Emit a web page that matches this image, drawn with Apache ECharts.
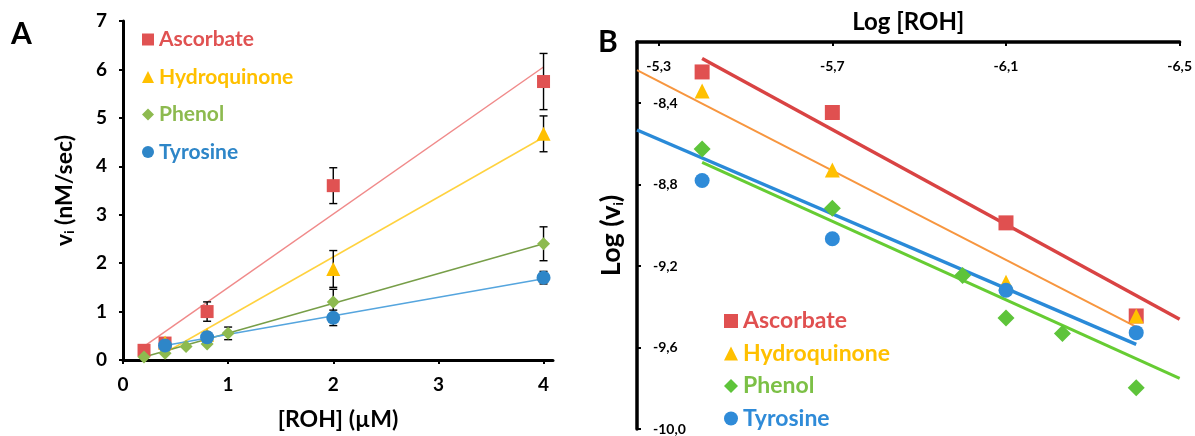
<!DOCTYPE html>
<html>
<head>
<meta charset="utf-8">
<script src="https://cdn.jsdelivr.net/npm/echarts@6/dist/echarts.min.js"></script>
<style>
html,body{margin:0;padding:0;background:#fff;}
#c{width:1195px;height:436px;}
</style>
</head>
<body>
<div id="c"></div>
<script>
// ---------- Panel A data: v_i (nM/sec) vs [ROH] (µM) ----------
const names = ['Ascorbate', 'Hydroquinone', 'Phenol', 'Tyrosine'];

const ascX = [0.2, 0.4, 0.8, 2, 4];
const ascY = [0.2, 0.35, 1.0, 3.6, 5.75];
const ascErr = [0, 0, 0.2, 0.37, 0.58];

const hydX = [0.4, 0.8, 2, 4];
const hydY = [0.36, 0.52, 1.88, 4.67];
const hydErr = [0, 0, 0.38, 0.37];

const phX = [0.2, 0.4, 0.6, 0.8, 1, 2, 4];
const phY = [0.06, 0.14, 0.28, 0.33, 0.55, 1.2, 2.4];
const phErr = [0, 0, 0, 0, 0.13, 0.26, 0.35];

const tyrX = [0.4, 0.8, 2, 4];
const tyrY = [0.3, 0.47, 0.87, 1.7];
const tyrErr = [0, 0.1, 0.16, 0.13];

// trend lines (endpoints)
const ascFit = [[0.2, 0.28], [4, 6.05]];
const hydFit = [[0.4, 0.15], [4, 4.6]];
const phFit = [[0.2, 0.06], [4, 2.4]];
const tyrFit = [[0.4, 0.3], [4, 1.68]];

const xTicksA = [0, 1, 2, 3, 4];
const yTicksA = [0, 1, 2, 3, 4, 5, 6, 7];

// ---------- Panel B data: Log(v_i) vs Log[ROH] ----------
const ascLX = [-5.4, -5.7, -6.1, -6.4];
const ascLY = [-8.247, -8.446, -8.988, -9.445];
const hydLX = [-5.4, -5.7, -6.1, -6.4];
const hydLY = [-8.34, -8.728, -9.28, -9.445];
const phLX = [-5.4, -5.7, -6.0, -6.1, -6.23, -6.4];
const phLY = [-8.625, -8.916, -9.246, -9.455, -9.531, -9.798];
const tyrLX = [-5.4, -5.7, -6.1, -6.4];
const tyrLY = [-8.78, -9.066, -9.319, -9.527];

const ascLFit = [[-5.4, -8.181], [-6.5, -9.461]];
const hydLFit = [[-5.25, -8.238], [-6.4, -9.499]];
const tyrLFit = [[-5.25, -8.532], [-6.4, -9.584]];
const phLFit = [[-5.4, -8.691], [-6.5, -9.752]];

const xTicksB = [-5.3, -5.7, -6.1, -6.5];
const yTicksB = [-10, -9.6, -9.2, -8.8, -8.4];

// ---------- helpers ----------
const FONT = 'Lato, "Open Sans", sans-serif';
const zip = (xs, ys) => xs.map((x, i) => [x, ys[i]]);
const zip3 = (xs, ys, es) => xs.map((x, i) => [x, ys[i], es[i]]).filter(d => d[2] > 0);

function errSeries(name, data) {
  return {
    name: name, type: 'custom', xAxisIndex: 0, yAxisIndex: 0, z: 3,
    data: data,
    renderItem: function (params, api) {
      const x = api.value(0), y = api.value(1), e = api.value(2);
      const top = api.coord([x, y + e]);
      const bot = api.coord([x, y - e]);
      const w = 4;
      const st = { stroke: '#000', lineWidth: 1.4 };
      return {
        type: 'group',
        children: [
          { type: 'line', shape: { x1: top[0], y1: top[1], x2: bot[0], y2: bot[1] }, style: st },
          { type: 'line', shape: { x1: top[0] - w, y1: top[1], x2: top[0] + w, y2: top[1] }, style: st },
          { type: 'line', shape: { x1: bot[0] - w, y1: bot[1], x2: bot[0] + w, y2: bot[1] }, style: st }
        ]
      };
    }
  };
}
function fitSeries(name, data, color, width, axis) {
  return {
    name: name, type: 'line', xAxisIndex: axis, yAxisIndex: axis, z: 2,
    data: data, showSymbol: false, symbol: 'none', silent: true,
    lineStyle: { color: color, width: width }
  };
}
function scatterSeries(name, data, symbol, size, color, axis) {
  return {
    name: name, type: 'scatter', xAxisIndex: axis, yAxisIndex: axis, z: 5,
    data: data, symbol: symbol, symbolSize: size,
    itemStyle: { color: color, opacity: 1 }
  };
}

const colA = { asc: '#E05252', hyd: '#FFC000', ph: '#8DBA4F', tyr: '#2E86C8' };
const lineA = { asc: '#F08A8A', hyd: '#FFD23F', ph: '#779E48', tyr: '#55A5DE' };
const colB = { asc: '#E05050', hyd: '#FFC000', ph: '#5EC43A', tyr: '#2F8BD8' };
const lineB = { asc: '#D94343', hyd: '#F7963F', ph: '#66CC33', tyr: '#2A8AD8' };

const labelFmtB = v => v.toFixed(1).replace('.', ',');

const option = {
  animation: false,
  backgroundColor: '#fff',
  textStyle: { fontFamily: FONT },
  graphic: [
    { type: 'text', left: 11, top: 19, style: { text: 'A', font: 'bold 30px ' + FONT, fill: '#000' } },
    { type: 'text', left: 598, top: 27, style: { text: 'B', font: 'bold 30px ' + FONT, fill: '#000' } }
  ],
  grid: [
    { left: 123, top: 21, width: 430, height: 341, containLabel: false },
    { left: 637, top: 42, width: 543, height: 388, containLabel: false }
  ],
  legend: [
    {
      orient: 'vertical', left: 142, top: 28, padding: 0, itemWidth: 12, itemHeight: 12, itemGap: 14.5,
      selectedMode: false,
      textStyle: { fontFamily: FONT, fontSize: 21, fontWeight: 'bold', lineHeight: 23 },
      data: [
        { name: 'Ascorbate', icon: 'rect', itemStyle: { color: colA.asc }, textStyle: { color: colA.asc } },
        { name: 'Hydroquinone', icon: 'triangle', itemStyle: { color: colA.hyd }, textStyle: { color: colA.hyd } },
        { name: 'Phenol', icon: 'diamond', itemStyle: { color: colA.ph }, textStyle: { color: colA.ph } },
        { name: 'Tyrosine', icon: 'circle', itemStyle: { color: colA.tyr }, textStyle: { color: colA.tyr } }
      ]
    },
    {
      orient: 'vertical', left: 724, top: 309, padding: 0, itemWidth: 14, itemHeight: 14, itemGap: 8.5,
      selectedMode: false,
      textStyle: { fontFamily: FONT, fontSize: 23, fontWeight: 'bold', lineHeight: 24 },
      data: [
        { name: 'Ascorbate', icon: 'rect', itemStyle: { color: colB.asc }, textStyle: { color: colB.asc } },
        { name: 'Hydroquinone', icon: 'triangle', itemStyle: { color: colB.hyd }, textStyle: { color: colB.hyd } },
        { name: 'Phenol', icon: 'diamond', itemStyle: { color: colB.ph }, textStyle: { color: '#7CC046' } },
        { name: 'Tyrosine', icon: 'circle', itemStyle: { color: colB.tyr }, textStyle: { color: colB.tyr } }
      ]
    }
  ],
  xAxis: [
    {
      gridIndex: 0, type: 'value', min: 0, max: 4.09,
      name: '[ROH] (\u00B5M)', nameLocation: 'middle', nameGap: 48,
      nameTextStyle: { fontFamily: FONT, fontSize: 23, fontWeight: 'bold', color: '#000' },
      axisLine: { show: true, onZero: false, lineStyle: { color: '#000', width: 3 } },
      axisTick: { show: true, length: 4, lineStyle: { color: '#000', width: 2 }, customValues: xTicksA },
      axisLabel: { margin: 15, fontFamily: FONT, fontSize: 19, fontWeight: 'bold', color: '#000', customValues: xTicksA },
      splitLine: { show: false }
    },
    {
      gridIndex: 1, type: 'value', min: -6.5, max: -5.25, inverse: true, position: 'top',
      name: 'Log [ROH]', nameLocation: 'middle', nameGap: 8,
      nameTextStyle: { fontFamily: FONT, fontSize: 24, fontWeight: 'bold', color: '#000', verticalAlign: 'bottom' },
      axisLine: { show: true, onZero: false, lineStyle: { color: '#000', width: 3.5 } },
      axisTick: { show: true, inside: true, length: 4, lineStyle: { color: '#000', width: 2 }, customValues: xTicksB },
      axisLabel: { inside: true, margin: 17, formatter: labelFmtB, fontFamily: FONT, fontSize: 14, fontWeight: 'bold', color: '#000', customValues: xTicksB },
      splitLine: { show: false }
    }
  ],
  yAxis: [
    {
      gridIndex: 0, type: 'value', min: 0, max: 7,
      name: '{a|v}{s|i}{a| (nM/sec)}', nameLocation: 'middle', nameGap: 47, nameRotate: 90,
      nameTextStyle: {
        color: '#000',
        rich: {
          a: { fontFamily: FONT, fontSize: 23, fontWeight: 'bold', color: '#000', lineHeight: 28, verticalAlign: 'bottom' },
          s: { fontFamily: FONT, fontSize: 13, fontWeight: 'bold', color: '#000', lineHeight: 20, verticalAlign: 'bottom' }
        }
      },
      axisLine: { show: true, onZero: false, lineStyle: { color: '#000', width: 3 } },
      axisTick: { show: true, length: 4, lineStyle: { color: '#000', width: 2 }, customValues: yTicksA },
      axisLabel: { margin: 16, fontFamily: FONT, fontSize: 19, fontWeight: 'bold', color: '#000', customValues: yTicksA },
      splitLine: { show: false }
    },
    {
      gridIndex: 1, type: 'value', min: -10, max: -8.1,
      name: '{a|Log (v}{s|i}{a|)}', nameLocation: 'middle', nameGap: 12, nameRotate: 90,
      nameTextStyle: {
        color: '#000',
        rich: {
          a: { fontFamily: FONT, fontSize: 27, fontWeight: 'bold', color: '#000', lineHeight: 30, verticalAlign: 'bottom' },
          s: { fontFamily: FONT, fontSize: 13, fontWeight: 'bold', color: '#000', lineHeight: 20, verticalAlign: 'bottom' }
        }
      },
      axisLine: { show: true, onZero: false, lineStyle: { color: '#000', width: 3.5 } },
      axisTick: { show: true, inside: true, length: 4, lineStyle: { color: '#000', width: 2 }, customValues: yTicksB },
      axisLabel: { inside: true, margin: 16, formatter: labelFmtB, fontFamily: FONT, fontSize: 14, fontWeight: 'bold', color: '#000', customValues: yTicksB },
      splitLine: { show: false }
    }
  ],
  series: [
    // Panel A
    fitSeries('fitA1', ascFit, lineA.asc, 1.5, 0),
    fitSeries('fitA2', hydFit, lineA.hyd, 1.5, 0),
    fitSeries('fitA3', phFit, lineA.ph, 1.5, 0),
    fitSeries('fitA4', tyrFit, lineA.tyr, 1.5, 0),
    errSeries('errA1', zip3(ascX, ascY, ascErr)),
    errSeries('errA2', zip3(hydX, hydY, hydErr)),
    errSeries('errA3', zip3(phX, phY, phErr)),
    errSeries('errA4', zip3(tyrX, tyrY, tyrErr)),
    scatterSeries('Ascorbate', zip(ascX, ascY), 'rect', 13, colA.asc, 0),
    scatterSeries('Hydroquinone', zip(hydX, hydY), 'triangle', 14, colA.hyd, 0),
    scatterSeries('Phenol', zip(phX, phY), 'diamond', 13, colA.ph, 0),
    scatterSeries('Tyrosine', zip(tyrX, tyrY), 'circle', 14, colA.tyr, 0),
    // Panel B
    fitSeries('fitB1', ascLFit, lineB.asc, 3.5, 1),
    fitSeries('fitB2', hydLFit, lineB.hyd, 2, 1),
    fitSeries('fitB3', phLFit, lineB.ph, 3, 1),
    fitSeries('fitB4', tyrLFit, lineB.tyr, 3.5, 1),
    scatterSeries('Ascorbate', zip(ascLX, ascLY), 'rect', 15, colB.asc, 1),
    scatterSeries('Hydroquinone', zip(hydLX, hydLY), 'triangle', 15, colB.hyd, 1),
    scatterSeries('Phenol', zip(phLX, phLY), 'diamond', 17, colB.ph, 1),
    scatterSeries('Tyrosine', zip(tyrLX, tyrLY), 'circle', 15, colB.tyr, 1)
  ]
};

const chart = echarts.init(document.getElementById('c'), null, { renderer: 'canvas' });
chart.setOption(option);
</script>
</body>
</html>
